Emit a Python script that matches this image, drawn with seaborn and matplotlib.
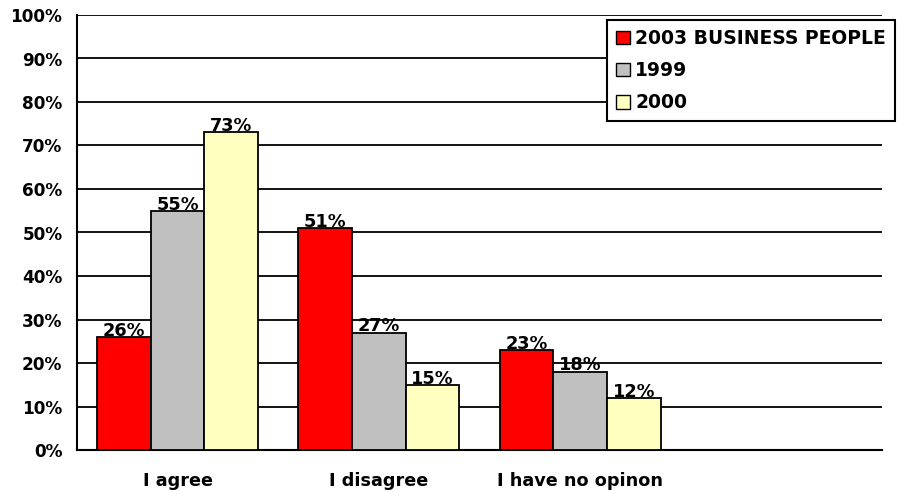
import matplotlib
matplotlib.use("Agg")
import matplotlib.pyplot as plt
import seaborn as sns
import pandas as pd
from matplotlib.patches import Patch

# Survey answers by group (percent)
categories = ["I agree", "I disagree", "I have no opinon"]
series = ["2003 BUSINESS PEOPLE", "1999", "2000"]
business_2003 = [26, 51, 23]
year_1999 = [55, 27, 18]
year_2000 = [73, 15, 12]
yticks = [0, 10, 20, 30, 40, 50, 60, 70, 80, 90, 100]
colors = ["#FF0000", "#C0C0C0", "#FFFFC0"]

rows = []
for name, vals in zip(series, [business_2003, year_1999, year_2000]):
    for cat, v in zip(categories, vals):
        rows.append({"answer": cat, "group": name, "pct": v})
df = pd.DataFrame(rows)

sns.set_theme(style="white")
plt.rcParams["font.family"] = ["DejaVu Sans"]
plt.rcParams["font.weight"] = "bold"
plt.rcParams["text.color"] = "black"
plt.rcParams["xtick.labelcolor"] = "black"
plt.rcParams["ytick.labelcolor"] = "black"

fig = plt.figure(figsize=(9, 4.94), dpi=100)
ax = fig.add_axes([77 / 900, 1 - 450 / 494, (882 - 77) / 900, (450 - 15) / 494])

sns.barplot(data=df, x="answer", y="pct", hue="group", order=categories,
            hue_order=series, palette=colors, edgecolor="black", linewidth=1.3,
            width=0.8, saturation=1, errorbar=None, legend=False, ax=ax, zorder=3)

# value labels on top of each bar
for container in ax.containers:
    ax.bar_label(container, labels=[f"{int(v)}%" for v in container.datavalues],
                 padding=-2, fontsize=12.8, fontweight="bold", color="black", zorder=4)

ax.set_xlim(-0.5, 3.5)
ax.set_ylim(0, 100)
ax.set_yticks(yticks)
ax.set_yticklabels([f"{t}%" for t in yticks], fontsize=12.2, fontweight="bold",
                   color="black")
ax.yaxis.grid(True, color="black", linewidth=1.3)
ax.set_axisbelow(True)

# slot boundaries carry the tick marks; labels sit at slot centres
ax.set_xticks([-0.5, 0.5, 1.5, 2.5, 3.5])
ax.set_xticklabels([])
ax.set_xticks([0, 1, 2], minor=True)
ax.set_xticklabels(categories, minor=True, fontsize=12.7, fontweight="bold",
                   color="black")
ax.tick_params(axis="x", which="major", direction="out", length=5, width=1.3, color="black")
ax.tick_params(axis="x", which="minor", length=0, pad=15.5)
ax.tick_params(axis="y", direction="out", length=5, width=1.3, color="black", pad=5.5)
ax.set_xlabel("")
ax.set_ylabel("")

for side in ["top", "right"]:
    ax.spines[side].set_visible(False)
for side in ["left", "bottom"]:
    ax.spines[side].set_color("black")
    ax.spines[side].set_linewidth(1.5)

handles = [Patch(facecolor=c, edgecolor="black", linewidth=1.0) for c in colors]
leg = fig.legend(handles, series, loc="upper left",
                 bbox_to_anchor=(607 / 900, 1 - 20 / 494), borderaxespad=0,
                 fancybox=False, framealpha=1, edgecolor="black",
                 prop={"size": 13.5, "weight": "bold"}, handlelength=0.75,
                 handleheight=0.75, handletextpad=0.27, labelspacing=0.70,
                 borderpad=0.48, labelcolor="black")
leg.get_frame().set_linewidth(1.5)

fig.savefig("out.png", dpi=100)
